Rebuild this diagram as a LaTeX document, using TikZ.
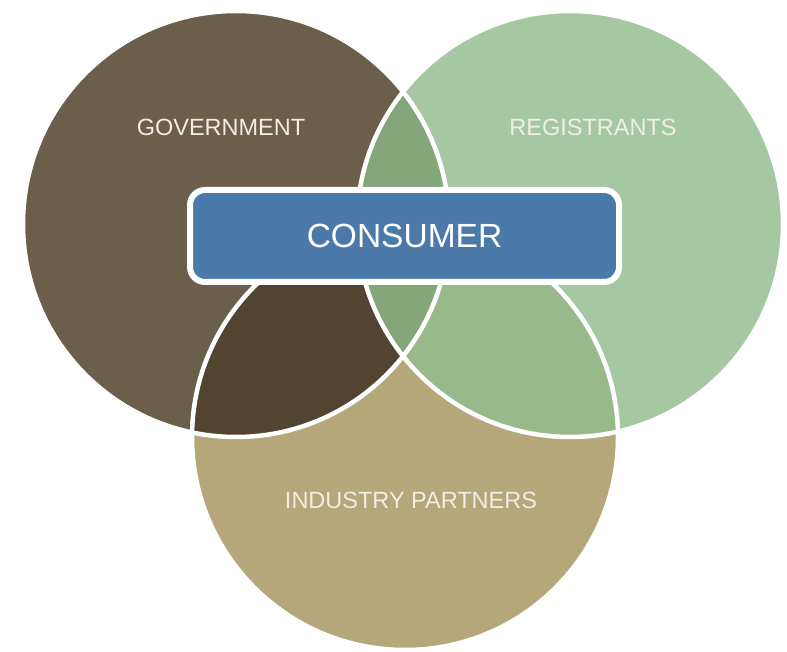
\documentclass[tikz,border=0pt]{standalone}
\usepackage{fontspec}
\setmainfont{Liberation Sans}
\begin{document}
\begin{tikzpicture}[x=1pt,y=-1pt]
\definecolor{govc}{HTML}{6B5F4B}
\definecolor{regc}{HTML}{A5C8A3}
\definecolor{indc}{HTML}{B5A779}
\definecolor{grc}{HTML}{85A67A}
\definecolor{rbc}{HTML}{98BA8A}
\definecolor{gbc}{HTML}{524430}
\definecolor{boxc}{HTML}{4B7AAA}
\definecolor{txtc}{HTML}{F2EEE4}
\tikzset{
  lbl/.style={text=txtc, font=\fontsize{23.5}{27}\selectfont},
  ring/.style={draw=white, line width=4.5pt},
  cbox/.style={draw=white, line width=6pt, fill=boxc, rounded corners=15pt,
    minimum width=429pt, minimum height=92pt, inner sep=0pt,
    text=white, font=\fontsize{33.5}{38}\selectfont}
}
\useasboundingbox (0,0) rectangle (787,652);
\coordinate (cg) at (236,224);
\coordinate (cr) at (570,224);
\coordinate (ci) at (405,437);
% base fills
\fill[govc] (cg) circle[radius=213pt];
\fill[regc] (cr) circle[radius=213pt];
\fill[indc] (ci) circle[radius=213pt];
% pairwise overlaps
\begin{scope}
  \clip (cg) circle[radius=213pt];
  \fill[grc] (cr) circle[radius=213pt];
\end{scope}
\begin{scope}
  \clip (cg) circle[radius=213pt];
  \fill[gbc] (ci) circle[radius=213pt];
\end{scope}
\begin{scope}
  \clip (cr) circle[radius=213pt];
  \fill[rbc] (ci) circle[radius=213pt];
\end{scope}
\begin{scope}
  \clip (cg) circle[radius=213pt];
  \clip (cr) circle[radius=213pt];
  \fill[grc] (ci) circle[radius=213pt];
\end{scope}
% white outlines
\draw[ring] (cg) circle[radius=213pt];
\draw[ring] (cr) circle[radius=213pt];
\draw[ring] (ci) circle[radius=213pt];
% labels
\node[lbl] (gov) at (221,127) {GOVERNMENT};
\node[lbl] (reg) at (593,127) {REGISTRANTS};
\node[lbl] (ind) at (411,500) {INDUSTRY PARTNERS};
\node[cbox] (con) at (404.5,236) {CONSUMER};
\end{tikzpicture}
\end{document}
